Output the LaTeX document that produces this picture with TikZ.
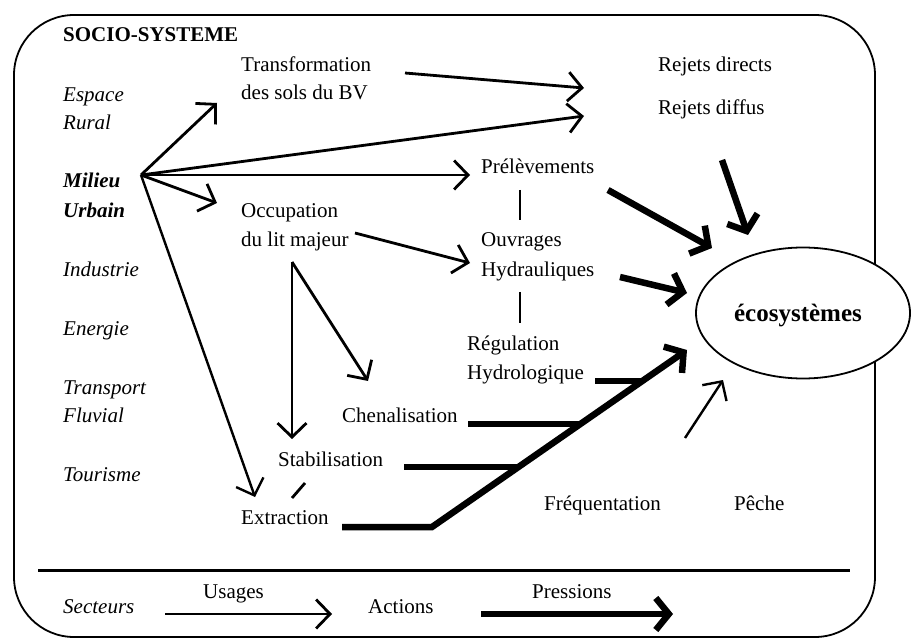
\documentclass[tikz,border=0pt]{standalone}
\usepackage{fontspec}
\setmainfont{Liberation Serif}
\usetikzlibrary{arrows.meta,shapes.geometric}
\begin{document}
\begin{tikzpicture}[x=1pt,y=-1pt,
  txt/.style={anchor=base west, inner sep=0pt, font=\fontsize{21}{25}\selectfont},
  itx/.style={anchor=base west, inner sep=0pt, font=\fontsize{21}{25}\selectfont\itshape},
  usage/.style={line width=2.8pt, -{Straight Barb[length=14pt,width=29pt]}},
  action/.style={line width=2.8pt},
  pression/.style={line width=6.5pt, -{Straight Barb[length=13pt,width=32pt]}},
  thickline/.style={line width=6.5pt},
]
\useasboundingbox (0,0) rectangle (919,639);
% frame
\draw[line width=1.8pt, rounded corners=60pt] (14,15) rectangle (875,637);
\draw[line width=3pt] (38,570) -- (850,570);

% left column
\node[txt, font=\fontsize{21}{25}\selectfont\bfseries] (socio) at (63,42) {SOCIO-SYSTEME};
\node[itx] (esp1) at (63,102) {Espace};
\node[itx] (esp2) at (63,130) {Rural};
\node[itx, font=\fontsize{21}{25}\selectfont\bfseries\itshape] (mil1) at (63,188) {Milieu};
\node[itx, font=\fontsize{21}{25}\selectfont\bfseries\itshape] (mil2) at (63,218) {Urbain};
\node[itx] (ind) at (63,277) {Industrie};
\node[itx] (ener) at (63,335) {Energie};
\node[itx] (tr1) at (63,394) {Transport};
\node[itx] (tr2) at (63,422) {Fluvial};
\node[itx] (tour) at (63,481) {Tourisme};
\node[itx] (sect) at (63,613) {Secteurs};

% usages
\node[txt] (transf1) at (241,72) {Transformation};
\node[txt] (transf2) at (241,100) {des sols du BV};
\node[txt] (occ1) at (241,218) {Occupation};
\node[txt] (occ2) at (241,247) {du lit majeur};
\node[txt] (extr) at (241,524) {Extraction};
\node[txt] (stab) at (278,466) {Stabilisation};
\node[txt] (chen) at (342,422) {Chenalisation};
\node[txt] (prel) at (481,174) {Prélèvements};
\node[txt] (ouv1) at (481,247) {Ouvrages};
\node[txt] (ouv2) at (481,277) {Hydrauliques};
\node[txt] (reg1) at (467,350) {Régulation};
\node[txt] (reg2) at (467,379) {Hydrologique};
\node[txt] (rej1) at (658,72) {Rejets directs};
\node[txt] (rej2) at (658,115) {Rejets diffus};
\node[txt] (freq) at (544,510) {Fréquentation};
\node[txt] (peche) at (734,510) {Pêche};

% legend
\node[txt] (usag) at (203,598) {Usages};
\node[txt] (act) at (368,613) {Actions};
\node[txt] (press) at (532,598) {Pressions};

% ecosystem
\node[ellipse, draw, fill=white, line width=1.8pt, minimum width=214pt, minimum height=131pt,
      inner sep=0pt] (eco) at (803,313) {};
\node[anchor=base, inner sep=0pt, font=\fontsize{25}{30}\selectfont\bfseries] (ecotxt) at (798,321) {écosystèmes};

% coordinates
\coordinate (hub) at (141,175);
\coordinate (hTr) at (217,103);
\coordinate (hRd) at (584,116);
\coordinate (hPr) at (470,175);
\coordinate (hOc) at (217,203);
\coordinate (hEx) at (255,497);
\coordinate (trS) at (405,73);
\coordinate (trE) at (584,88);
\coordinate (ocS) at (355,233);
\coordinate (ocE) at (470,263);
\coordinate (ocB) at (292,262);
\coordinate (stT) at (292,439);
\coordinate (chT) at (368,381);
\coordinate (pv1) at (520,190);
\coordinate (pv2) at (520,220);
\coordinate (ov1) at (520,292);
\coordinate (ov2) at (520,323);
\coordinate (sl1) at (305,483);
\coordinate (sl2) at (292,498);
\coordinate (p1s) at (608,190);
\coordinate (p1e) at (712,248);
\coordinate (p2s) at (722,160);
\coordinate (p2e) at (748,235);
\coordinate (p3s) at (620,277);
\coordinate (p3e) at (687,293);
\coordinate (exS) at (342,527);
\coordinate (exK) at (432,527);
\coordinate (exE) at (687,350);
\coordinate (stS) at (404,467);
\coordinate (stE) at (518,467);
\coordinate (chS) at (468,424);
\coordinate (chE) at (580,424);
\coordinate (hyS) at (595,381);
\coordinate (hyE) at (642,381);
\coordinate (peS) at (685,438);
\coordinate (peE) at (723,380);
\coordinate (uS) at (165,614);
\coordinate (uE) at (332,614);
\coordinate (pS) at (481,614);
\coordinate (pE) at (673,614);

% usage arrows
\draw[usage] (hub) -- (hTr);
\draw[usage] (hub) -- (hRd);
\draw[usage] (hub) -- (hPr);
\draw[usage] (hub) -- (hOc);
\draw[usage, line width=2.4pt] (hub) -- (hEx);
\draw[usage] (trS) -- (trE);
\draw[usage] (ocS) -- (ocE);
\draw[usage] (ocB) -- (stT);
\draw[usage] (ocB) -- (chT);
\draw[action] (pv1) -- (pv2);
\draw[action] (ov1) -- (ov2);
\draw[action] (sl1) -- (sl2);

% pressions
\draw[pression] (p1s) -- (p1e);
\draw[pression] (p2s) -- (p2e);
\draw[pression] (p3s) -- (p3e);
\draw[pression] (exS) -- (exK) -- (exE);
\draw[thickline] (stS) -- (stE);
\draw[thickline] (chS) -- (chE);
\draw[thickline] (hyS) -- (hyE);
\draw[usage, line width=2.4pt] (peS) -- (peE);

% legend arrows
\draw[usage] (uS) -- (uE);
\draw[pression] (pS) -- (pE);
\end{tikzpicture}
\end{document}
